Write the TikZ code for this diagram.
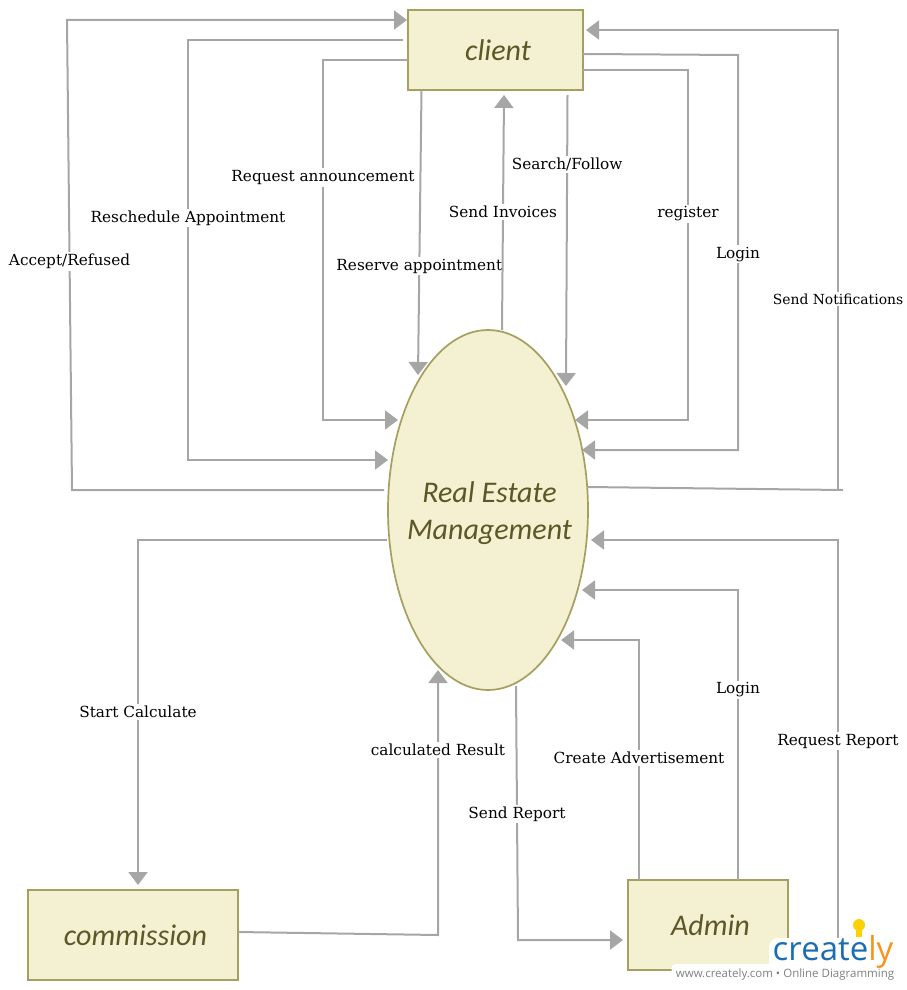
\documentclass[tikz,border=0pt]{standalone}
\usepackage{fontspec}
\setmainfont{DejaVu Serif}
\newfontfamily\boxfont{Carlito}
\newfontfamily\logofont{Open Sans}
\usetikzlibrary{arrows.meta,shapes.geometric}
\definecolor{boxfill}{HTML}{F4F0D2}
\definecolor{boxline}{HTML}{A59F60}
\definecolor{boxtext}{HTML}{5C5826}
\definecolor{flowline}{HTML}{A6A6A6}
\definecolor{logoblue}{HTML}{1B6DB3}
\definecolor{logoorange}{HTML}{F7931E}
\definecolor{logogray}{HTML}{808080}
\tikzset{
  entity/.style={rectangle, draw=boxline, fill=boxfill, text=boxtext, line width=2pt, outer sep=0pt, execute at begin node=\hspace*{5pt}, font=\boxfont\itshape\fontsize{30}{36}\selectfont},
  process/.style={ellipse, draw=boxline, fill=boxfill, text=boxtext, line width=1.7pt, outer sep=0pt, align=center, inner xsep=-30pt, inner ysep=0pt, minimum width=200pt, minimum height=360pt, font=\boxfont\itshape\fontsize{30}{37}\selectfont},
  flow/.style={draw=flowline, line width=2pt, -{Triangle[length=13pt,width=19pt]}},
  plain/.style={draw=flowline, line width=2pt},
  lbl/.style={fill=white, inner xsep=1pt, inner ysep=2pt, font=\fontsize{15.3}{18}\selectfont}
}
\begin{document}
\begin{tikzpicture}[x=1pt,y=-1pt]
	\useasboundingbox (0,0) rectangle (907,990);
	\node[process] (estate) at (488,510) {\rule{0pt}{27pt}\hspace*{3pt}Real Estate\\\hspace*{3pt}Management};
	\node[entity, minimum width=175pt, minimum height=80pt] (client) at (495.5,50) {client};
	\node[entity, minimum width=210pt, minimum height=90pt] (commission) at (133,935) {commission};
	\node[entity, minimum width=160pt, minimum height=90pt] (admin) at (708,925) {Admin};
	% client side
	\draw[flow] ([shift={(-104,-20)}]estate.center) -- ++(-312,0) -- node[lbl,pos=.487] {Accept/Refused} (67,20) -- ([shift={(-1,-30)}]client.west);
	\draw[flow] ([shift={(-5,-10)}]client.west) -- ++(-215,0) -- node[lbl,pos=.424] {Reschedule Appointment} ++(0,420) -- ([shift={(-100,-50)}]estate.center);
	\draw[flow] ([shift={(0,10)}]client.west) -- ++(-85,0) -- node[lbl,pos=.326] {Request announcement} ++(0,360) -- ([shift={(-90,-90)}]estate.center);
	\draw[flow] ([shift={(-74,0)}]client.south) -- node[lbl,pos=.618] {Reserve appointment} ([shift={(-70,-135)}]estate.center);
	\draw[flow] ([shift={(14,-180)}]estate.center) -- node[lbl,pos=.502] {Send Invoices} ([shift={(8.5,5)}]client.south);
	\draw[flow] ([shift={(72,5)}]client.south) -- node[lbl,pos=.24] {Search/Follow} ([shift={(78,-124)}]estate.center);
	\draw[flow] ([shift={(0,20)}]client.east) -- ++(105,0) -- node[lbl,pos=.411] {register} ++(0,350) -- ([shift={(87,-90)}]estate.center);
	\draw[flow] ([shift={(0,4)}]client.east) -- ++(155,1) -- node[lbl,pos=.504] {Login} ++(0,395) -- ([shift={(94,-60)}]estate.center);
	\draw[plain] ([shift={(99,-23)}]estate.center) -- ++(256,3);
	\draw[flow] ([shift={(350,-20)}]estate.center) -- node[lbl,pos=.415,font=\fontsize{13.9}{16}\selectfont] {Send Notifications} ++(0,-460) -- ([shift={(3,-20)}]client.east);
	% commission and admin side
	\draw[flow] ([shift={(-101,30)}]estate.center) -- ++(-249,0) -- node[lbl,pos=.499] {Start Calculate} ([shift={(5,-5)}]commission.north);
	\draw[flow] ([shift={(0,-3)}]commission.east) -- ++(200,3) -- node[lbl,pos=.698] {calculated Result} ([shift={(-50,160)}]estate.center);
	\draw[flow] ([shift={(28,176)}]estate.center) -- node[lbl,pos=.504] {Send Report} ++(2,254) -- ([shift={(-5,15)}]admin.west);
	\draw[flow] ([shift={(-69,0)}]admin.north) -- node[lbl,pos=.508] {Create Advertisement} ++(0,-240) -- ([shift={(73,130)}]estate.center);
	\draw[flow] ([shift={(30,0)}]admin.north) -- node[lbl,pos=.655] {Login} ++(0,-290) -- ([shift={(94,80)}]estate.center);
	\draw[flow] ([shift={(0,14)}]admin.east) -- ++(50,0) -- node[lbl,pos=.496] {Request Report} ++(0,-399) -- ([shift={(103,30)}]estate.center);
	% logo
	\node[fill=white, rounded corners=9pt, minimum width=128pt, minimum height=34pt, inner sep=0pt] (logoback) at (833,955) {};
	\node[fill=white, rounded corners=4pt, minimum width=231pt, minimum height=20pt, inner sep=0pt] (tagback) at (787,974) {};
	\node[inner sep=0pt, text=logoblue, font=\logofont\fontsize{33}{40}\selectfont] (logo) at (833,952) {create\textcolor{logoorange}{ly}};
	\node[inner sep=0pt, text=logogray, font=\logofont\fontsize{11.5}{14}\selectfont] (tagline) at (785,974) {www.creately.com • Online Diagramming};
	\fill[yellow!70!orange] (859,925) circle (6pt);
	\fill[yellow!70!orange] (856,929) rectangle (862,937);
\end{tikzpicture}
\end{document}
